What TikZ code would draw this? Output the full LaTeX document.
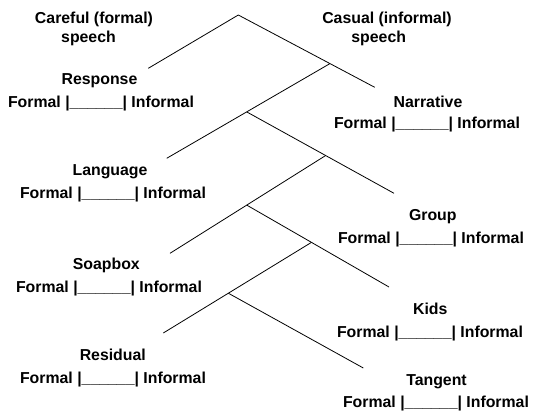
\documentclass[tikz,border=0pt]{standalone}
\usepackage{fontspec}
\setmainfont{Liberation Sans}
\usetikzlibrary{calc}
\tikzset{
  txt/.style={anchor=base, inner sep=0pt, font=\fontsize{15.85}{19}\selectfont\bfseries},
  branch/.style={draw=black, line width=0.8pt}
}
\newcommand{\scalerow}{Formal |\_\_\_\_\_\_| Informal}
\begin{document}
\begin{tikzpicture}[x=1pt,y=-1pt]
\useasboundingbox (0,0) rectangle (534,412);
% header texts
\node[txt] (careful) at (94,24) {Careful (formal)};
\node[txt] (carefulb) at (88.5,42) {speech};
\node[txt] (casual) at (387,24) {Casual (informal)};
\node[txt] (casualb) at (378.7,42) {speech};
% labels
\node[txt] (response) at (99.5,84) {Response};
\node[txt] (responserow) at (101,107.3) {\scalerow};
\node[txt] (narrative) at (428,107) {Narrative};
\node[txt] (narrativerow) at (427,128.5) {\scalerow};
\node[txt] (language) at (110,175) {Language};
\node[txt] (languagerow) at (113,198.3) {\scalerow};
\node[txt] (group) at (432.8,220) {Group};
\node[txt] (grouprow) at (431,243.3) {\scalerow};
\node[txt] (soapbox) at (106.3,269.3) {Soapbox};
\node[txt] (soapboxrow) at (109,292) {\scalerow};
\node[txt] (kids) at (430.3,314.7) {Kids};
\node[txt] (kidsrow) at (430,337) {\scalerow};
\node[txt] (residual) at (112.8,360.3) {Residual};
\node[txt] (residualrow) at (113,383.7) {\scalerow};
\node[txt] (tangent) at (436.5,385.3) {Tangent};
\node[txt] (tangentrow) at (436,407) {\scalerow};
% tree coordinates
\coordinate (A) at (238.3,15);
\coordinate (L1) at (148.3,68.3);
\coordinate (R1) at (374.7,87.3);
\coordinate (J1) at ($(A)!0.672!(R1)$);
\coordinate (L2) at (166.7,158.3);
\coordinate (J2) at ($(J1)!0.51!(L2)$);
\coordinate (R2) at (394,193.3);
\coordinate (J3) at ($(J2)!0.536!(R2)$);
\coordinate (L3) at (170,253.3);
\coordinate (J4) at ($(J3)!0.507!(L3)$);
\coordinate (R3) at (389,287);
\coordinate (J5) at ($(J4)!0.455!(R3)$);
\coordinate (L4) at (163.3,333);
\coordinate (J6) at ($(J5)!0.561!(L4)$);
\coordinate (R4) at (363.3,368);
% branches
\draw[branch] (L1) -- (A) -- (R1);
\draw[branch] (J1) -- (L2);
\draw[branch] (J2) -- (R2);
\draw[branch] (J3) -- (L3);
\draw[branch] (J4) -- (R3);
\draw[branch] (J5) -- (L4);
\draw[branch] (J6) -- (R4);
\end{tikzpicture}
\end{document}
